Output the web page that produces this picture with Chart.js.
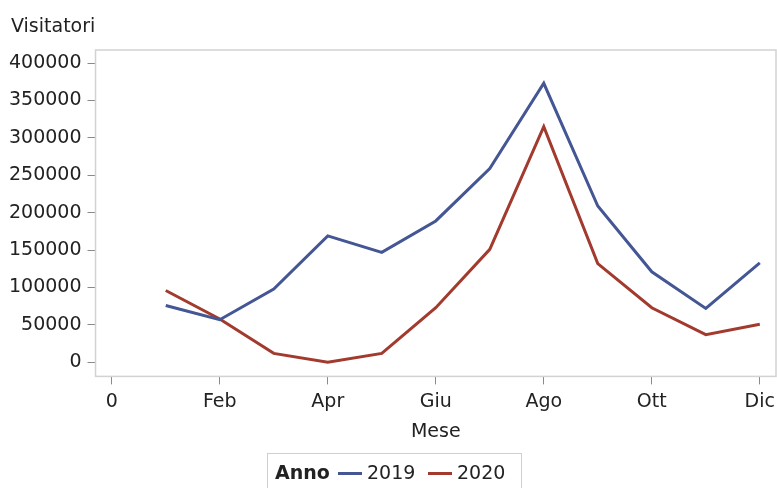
<!DOCTYPE html>
<html>
<head>
<meta charset="utf-8">
<script src="https://cdn.jsdelivr.net/npm/chart.js@4"></script>
<style>
  html, body { margin: 0; padding: 0; background: #fff; overflow: hidden; }
  #wrap { position: relative; width: 777px; height: 488px; }
  #legend {
    position: absolute; left: 267px; top: 453px; width: 255px; height: 40px;
    border: 1px solid #cfcfcf; box-sizing: border-box;
    font-family: "DejaVu Sans", sans-serif; font-size: 19px; color: #222;
  }
  #legend span { position: absolute; top: 7px; line-height: 22px; }
  #legend i { position: absolute; top: 18px; width: 24px; height: 3px; }
</style>
</head>
<body>
<div id="wrap">
  <canvas id="chart" width="777" height="488"></canvas>
  <div id="legend">
    <span style="left:7px;font-weight:bold">Anno</span>
    <i id="sw2019" style="left:70px"></i>
    <span style="left:99px">2019</span>
    <i id="sw2020" style="left:160px"></i>
    <span style="left:189px">2020</span>
  </div>
</div>
<script>
// months 1..12 (Gen..Dic)
const months = [1, 2, 3, 4, 5, 6, 7, 8, 9, 10, 11, 12];
const visitors2019 = [76000, 57000, 98000, 169000, 147000, 189000, 259000, 373000, 209000, 121000, 72000, 133000];
const visitors2020 = [96000, 58000, 12000, 0, 12000, 73000, 151000, 315000, 132000, 73000, 37000, 51000];

const xTickValues = [0, 2, 4, 6, 8, 10, 12];
const xTickLabels = ['0', 'Feb', 'Apr', 'Giu', 'Ago', 'Ott', 'Dic'];
const yTickValues = [0, 50000, 100000, 150000, 200000, 250000, 300000, 350000, 400000];

const color2019 = '#445694';
const color2020 = '#a23a2e';
document.getElementById('sw2019').style.background = color2019;
document.getElementById('sw2020').style.background = color2020;

const font = { family: '"DejaVu Sans", sans-serif', size: 19 };

// frame around the plot area + y axis title above it
const framePlugin = {
    id: 'frame',
    afterDraw(chart) {
        const a = chart.chartArea, ctx = chart.ctx;
        ctx.save();
        ctx.strokeStyle = '#d2d2d2';
        ctx.lineWidth = 1.5;
        ctx.strokeRect(a.left, a.top, a.right - a.left, a.bottom - a.top);
        ctx.fillStyle = '#222';
        ctx.font = '19px "DejaVu Sans", sans-serif';
        ctx.textBaseline = 'middle';
        ctx.fillText('Visitatori', 11, 27);
        ctx.restore();
    }
};

new Chart(document.getElementById('chart'), {
    type: 'line',
    data: {
        datasets: [{
            label: '2019',
            data: months.map((m, i) => ({ x: m, y: visitors2019[i] })),
            borderColor: color2019,
            borderWidth: 3,
            pointRadius: 0,
            tension: 0
        }, {
            label: '2020',
            data: months.map((m, i) => ({ x: m, y: visitors2020[i] })),
            borderColor: color2020,
            borderWidth: 3,
            pointRadius: 0,
            tension: 0
        }]
    },
    options: {
        responsive: false,
        animation: false,
        layout: { padding: { left: 3, right: 1, top: 50, bottom: 45 } },
        plugins: {
            legend: { display: false },
            tooltip: { enabled: false }
        },
        scales: {
            x: {
                type: 'linear',
                min: -0.3,
                max: 12.3,
                afterBuildTicks: s => { s.ticks = xTickValues.map(v => ({ value: v })); },
                afterFit: s => { s.paddingRight = 0; },
                ticks: {
                    color: '#222',
                    font: font,
                    padding: 6,
                    maxRotation: 0,
                    callback: v => xTickLabels[xTickValues.indexOf(v)]
                },
                grid: { drawOnChartArea: false, tickLength: 8, color: '#8a8a8a' },
                border: { display: false },
                title: { display: true, text: 'Mese', color: '#222', font: font, padding: { top: 1, bottom: 0 } }
            },
            y: {
                min: -18800,
                max: 417500,
                afterBuildTicks: s => { s.ticks = yTickValues.map(v => ({ value: v })); },
                ticks: { color: '#222', font: font, padding: 6, callback: v => String(v) },
                grid: { drawOnChartArea: false, tickLength: 8, color: '#8a8a8a' },
                border: { display: false }
            }
        }
    },
    plugins: [framePlugin]
});
</script>
</body>
</html>
